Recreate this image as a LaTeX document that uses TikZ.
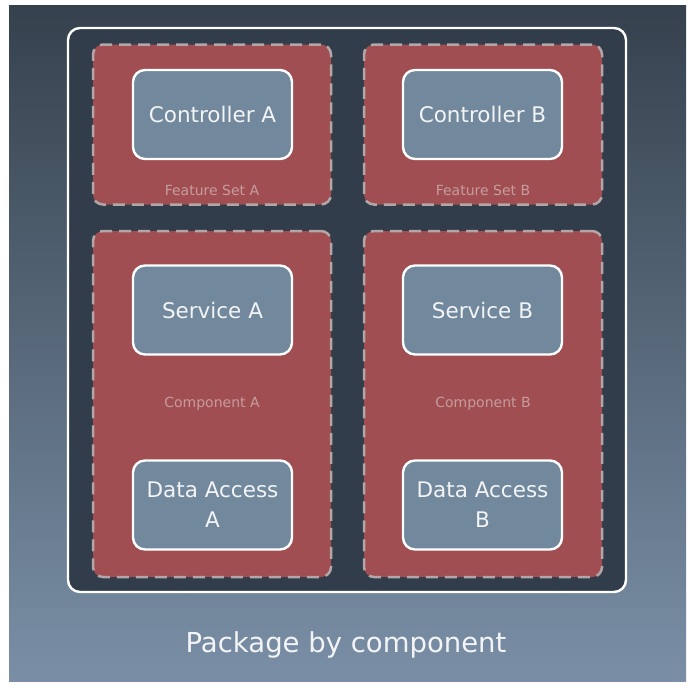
\documentclass[tikz,border=0pt]{standalone}
\usepackage{fontspec}
\setmainfont{DejaVu Sans}
\definecolor{bgtop}{HTML}{35414D}
\definecolor{bgmid}{HTML}{55677A}
\definecolor{bgbot}{HTML}{7A8FA6}
\definecolor{inner}{HTML}{313D4A}
\definecolor{redbox}{HTML}{A04E52}
\definecolor{dashc}{HTML}{B2A6A8}
\definecolor{bluebox}{HTML}{72889C}
\definecolor{lbl}{HTML}{C69C9E}
\definecolor{txt}{HTML}{F2F4F6}
\tikzset{
  groupbox/.style={fill=redbox, draw=dashc, line width=2.5pt, dash pattern=on 12pt off 7pt, rounded corners=10pt, minimum width=238pt},
  unitbox/.style={fill=bluebox, draw=white, line width=2.4pt, rounded corners=12pt, minimum width=159pt, minimum height=89pt, text=txt, font=\fontsize{21.5}{30}\selectfont, align=center, inner sep=0pt},
  grouplabel/.style={text=lbl, font=\fontsize{14}{16}\selectfont, inner sep=0pt}
}
\begin{document}
\begin{tikzpicture}[x=1pt,y=-1pt]
\useasboundingbox (0,0) rectangle (699,696);
\fill[white] (0,0) rectangle (699,696);
\shade[top color=bgtop, middle color=bgmid, bottom color=bgbot] (9,5) rectangle (686,681);
\node[draw=white, line width=2.4pt, fill=inner, rounded corners=12pt, minimum width=558pt, minimum height=564pt, inner sep=0pt] (pkg) at (347,310) {};
% groups
\node[groupbox, minimum height=160pt] (fsA) at (212,124.5) {};
\node[groupbox, minimum height=160pt] (fsB) at (483,124.5) {};
\node[groupbox, minimum height=346pt] (cA) at (212,404) {};
\node[groupbox, minimum height=346pt] (cB) at (483,404) {};
% labels
\node[grouplabel] (lfsA) at (212,190) {Feature Set A};
\node[grouplabel] (lfsB) at (483,190) {Feature Set B};
\node[grouplabel] (lcA) at (212,404) {Component A};
\node[grouplabel] (lcB) at (483,404) {Component B};
% units
\node[unitbox] (ctlA) at (212.5,114.5) {Controller A};
\node[unitbox] (ctlB) at (482.5,114.5) {Controller B};
\node[unitbox] (svcA) at (212.5,310) {Service A};
\node[unitbox] (svcB) at (482.5,310) {Service B};
\node[unitbox] (daA) at (212.5,505) {Data Access\\A};
\node[unitbox] (daB) at (482.5,505) {Data Access\\B};
% title
\node[text=txt, font=\fontsize{27.5}{32}\selectfont, inner sep=0pt] (title) at (346,645) {Package by component};
\end{tikzpicture}
\end{document}
